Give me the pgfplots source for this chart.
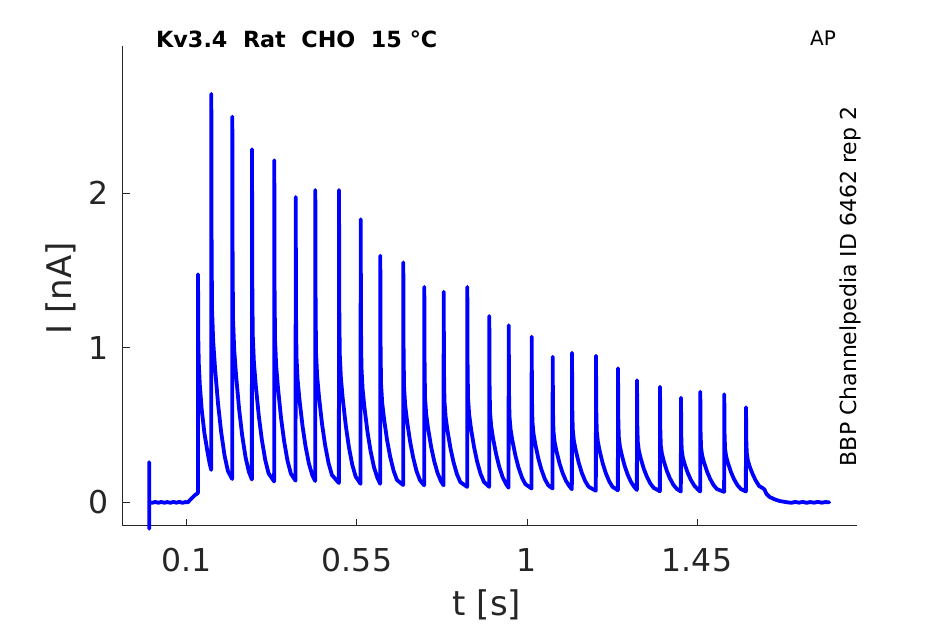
\documentclass[border=0pt]{standalone}
\usepackage{fontspec}
\setmainfont{DejaVu Sans}
\usepackage{pgfplots}
\pgfplotsset{compat=1.18}
\definecolor{axgray}{HTML}{262626}
\begin{document}
\begin{tikzpicture}
\path[use as bounding box] (0bp,0bp) rectangle (945bp,624bp);
\begin{axis}[
  at={(122.5bp,98bp)}, anchor=south west,
  width=734bp, height=480bp, scale only axis,
  xmin=-0.0707, xmax=1.8722, ymin=-0.153, ymax=2.953,
  axis lines=left,
  axis line style={-, draw=axgray, line width=1bp},
  xtick={0.1,0.55,1,1.45}, xticklabels={0.1,0.55,1,1.45},
  ytick={0,1,2}, yticklabels={0,1,2},
  tick align=inside, major tick length=7bp,
  tick style={draw=axgray, line width=1bp},
  /pgf/number format/assume math mode=true,
  xticklabel style={anchor=base, yshift=-45.7bp, inner sep=0pt,
    font=\fontsize{31.5bp}{36bp}\selectfont, text=axgray},
  yticklabel style={anchor=east, xshift=-14bp, inner sep=0pt,
    font=\fontsize{31.5bp}{36bp}\selectfont, text=axgray},
  xlabel={t [s]}, ylabel={I [nA]},
  xlabel style={at={(axis description cs:0.4966,-0.1865)}, anchor=base, inner sep=0pt,
    font=\fontsize{34bp}{40bp}\selectfont, text=axgray},
  ylabel style={at={(axis description cs:-0.0692,0.4958)}, rotate=0, anchor=base, inner sep=0pt,
    font=\fontsize{34bp}{40bp}\selectfont, text=axgray},
  clip=false,
]
\addplot[color=blue, line width=3.8bp, line join=round, line cap=round] coordinates {
(0,0.26) (0.0001,-0.17) (0.0003,0.0)
(0.008,-0.003) (0.016,0.003) (0.024,-0.003) (0.032,0.003) (0.040,-0.003) (0.048,0.002) (0.056,-0.003) (0.064,0.003) (0.072,-0.002) (0.080,0.003) (0.088,-0.003) (0.096,0.002) (0.102,0.0)
(0.108,0.015) (0.114,0.03) (0.120,0.045) (0.126,0.055) (0.1289,0.06)
(0.1292,1.476) (0.1300,1.05) (0.1312,0.90) (0.1340,0.76) (0.1390,0.60) (0.1460,0.45) (0.1540,0.33) (0.1600,0.25) (0.1640,0.21)
(0.1644,2.643) (0.1652,1.626) (0.1664,1.244) (0.1694,1.041) (0.1744,0.863) (0.1824,0.634) (0.1904,0.456) (0.1994,0.303) (0.2084,0.202) (0.2196,0.151)
(0.2200,2.496) (0.2208,1.538) (0.2220,1.178) (0.2250,0.987) (0.2300,0.819) (0.2380,0.603) (0.2460,0.435) (0.2550,0.292) (0.2640,0.196) (0.2717,0.148)
(0.2721,2.285) (0.2729,1.411) (0.2741,1.083) (0.2771,0.908) (0.2821,0.756) (0.2901,0.559) (0.2981,0.406) (0.3071,0.275) (0.3161,0.187) (0.3307,0.135)
(0.3311,2.214) (0.3319,1.368) (0.3331,1.051) (0.3361,0.882) (0.3411,0.734) (0.3491,0.544) (0.3571,0.396) (0.3661,0.269) (0.3751,0.185) (0.3874,0.140)
(0.3878,1.976) (0.3886,1.226) (0.3898,0.944) (0.3928,0.794) (0.3978,0.663) (0.4058,0.494) (0.4138,0.363) (0.4228,0.250) (0.4318,0.175) (0.4393,0.138)
(0.4397,2.021) (0.4405,1.253) (0.4417,0.964) (0.4447,0.811) (0.4497,0.676) (0.4577,0.503) (0.4657,0.369) (0.4747,0.254) (0.4837,0.177) (0.5020,0.125)
(0.5024,2.021) (0.5032,1.249) (0.5044,0.959) (0.5074,0.804) (0.5124,0.669) (0.5204,0.496) (0.5284,0.360) (0.5374,0.244) (0.5464,0.167) (0.5594,0.120)
(0.5598,1.832) (0.5606,1.135) (0.5618,0.874) (0.5648,0.735) (0.5698,0.613) (0.5778,0.456) (0.5858,0.334) (0.5948,0.229) (0.6038,0.160) (0.6113,0.120)
(0.6117,1.596) (0.6125,0.992) (0.6137,0.765) (0.6167,0.644) (0.6217,0.538) (0.6297,0.402) (0.6377,0.297) (0.6467,0.206) (0.6557,0.145) (0.6722,0.112)
(0.6726,1.553) (0.6734,0.966) (0.6746,0.746) (0.6776,0.628) (0.6826,0.525) (0.6906,0.393) (0.6986,0.291) (0.7076,0.202) (0.7166,0.144) (0.7278,0.110)
(0.7282,1.394) (0.7290,0.870) (0.7302,0.674) (0.7332,0.569) (0.7382,0.478) (0.7462,0.360) (0.7542,0.268) (0.7632,0.190) (0.7722,0.137) (0.7791,0.110)
(0.7795,1.363) (0.7803,0.850) (0.7815,0.657) (0.7845,0.555) (0.7895,0.465) (0.7975,0.349) (0.8055,0.260) (0.8145,0.183) (0.8235,0.131) (0.8416,0.100)
(0.8420,1.394) (0.8428,0.868) (0.8440,0.671) (0.8470,0.566) (0.8520,0.474) (0.8600,0.356) (0.8680,0.264) (0.8770,0.185) (0.8860,0.133) (0.8998,0.100)
(0.9002,1.206) (0.9010,0.754) (0.9022,0.584) (0.9052,0.493) (0.9102,0.414) (0.9182,0.313) (0.9262,0.233) (0.9352,0.165) (0.9442,0.120) (0.9512,0.095)
(0.9516,1.146) (0.9524,0.718) (0.9536,0.557) (0.9566,0.471) (0.9616,0.396) (0.9696,0.300) (0.9776,0.225) (0.9866,0.161) (0.9956,0.118) (1.0120,0.090)
(1.0124,1.072) (1.0132,0.671) (1.0144,0.521) (1.0174,0.441) (1.0224,0.371) (1.0304,0.280) (1.0384,0.210) (1.0474,0.150) (1.0564,0.110) (1.0676,0.090)
(1.0680,0.942) (1.0688,0.593) (1.0700,0.462) (1.0730,0.393) (1.0780,0.332) (1.0860,0.253) (1.0940,0.192) (1.1030,0.140) (1.1120,0.105) (1.1187,0.085)
(1.1191,0.968) (1.1199,0.607) (1.1211,0.471) (1.1241,0.399) (1.1291,0.336) (1.1371,0.255) (1.1451,0.191) (1.1541,0.137) (1.1631,0.101) (1.1822,0.075)
(1.1826,0.949) (1.1834,0.595) (1.1846,0.463) (1.1876,0.392) (1.1926,0.330) (1.2006,0.251) (1.2086,0.189) (1.2176,0.136) (1.2266,0.100) (1.2405,0.078)
(1.2409,0.867) (1.2417,0.546) (1.2429,0.426) (1.2459,0.362) (1.2509,0.306) (1.2589,0.233) (1.2669,0.177) (1.2759,0.129) (1.2849,0.097) (1.2908,0.080)
(1.2912,0.790) (1.2920,0.500) (1.2932,0.391) (1.2962,0.333) (1.3012,0.283) (1.3092,0.217) (1.3172,0.167) (1.3262,0.123) (1.3352,0.094) (1.3517,0.072)
(1.3521,0.748) (1.3529,0.473) (1.3541,0.370) (1.3571,0.315) (1.3621,0.266) (1.3701,0.204) (1.3781,0.156) (1.3871,0.115) (1.3961,0.088) (1.4072,0.070)
(1.4076,0.677) (1.4084,0.430) (1.4096,0.338) (1.4126,0.288) (1.4176,0.245) (1.4256,0.190) (1.4336,0.146) (1.4426,0.109) (1.4516,0.085) (1.4583,0.070)
(1.4587,0.716) (1.4595,0.454) (1.4607,0.355) (1.4637,0.303) (1.4687,0.257) (1.4767,0.198) (1.4847,0.152) (1.4937,0.112) (1.5027,0.086) (1.5218,0.068)
(1.5222,0.699) (1.5230,0.443) (1.5242,0.348) (1.5272,0.296) (1.5322,0.252) (1.5402,0.194) (1.5482,0.149) (1.5572,0.111) (1.5662,0.086) (1.5793,0.070)
(1.5797,0.615) (1.5805,0.40) (1.5817,0.32) (1.5847,0.27) (1.5897,0.23) (1.5977,0.18) (1.6057,0.14) (1.6147,0.105) (1.6220,0.095) (1.6280,0.085) (1.6340,0.055) (1.6420,0.035) (1.6550,0.020) (1.6700,0.008) (1.6900,0.0)
(1.700,-0.003) (1.710,0.003) (1.720,-0.002) (1.730,0.003) (1.740,-0.003) (1.750,0.002) (1.760,-0.002) (1.770,0.003) (1.780,-0.002) (1.790,0.002) (1.800,0.0)
};
\node[anchor=base west, inner sep=0pt, font=\fontsize{22.3bp}{26bp}\selectfont\bfseries]
  at (axis description cs:0.0456,0.9973) {Kv3.4~~Rat~~CHO~~15~°C};
\node[anchor=base west, inner sep=0pt, font=\fontsize{20bp}{24bp}\selectfont]
  at (axis description cs:0.9366,1.0) {AP};
\node[rotate=90, anchor=base, inner sep=0pt, font=\fontsize{22bp}{26bp}\selectfont]
  at (axis description cs:0.99932,0.49896) {BBP Channelpedia ID 6462 rep 2};
\end{axis}
\end{tikzpicture}
\end{document}
